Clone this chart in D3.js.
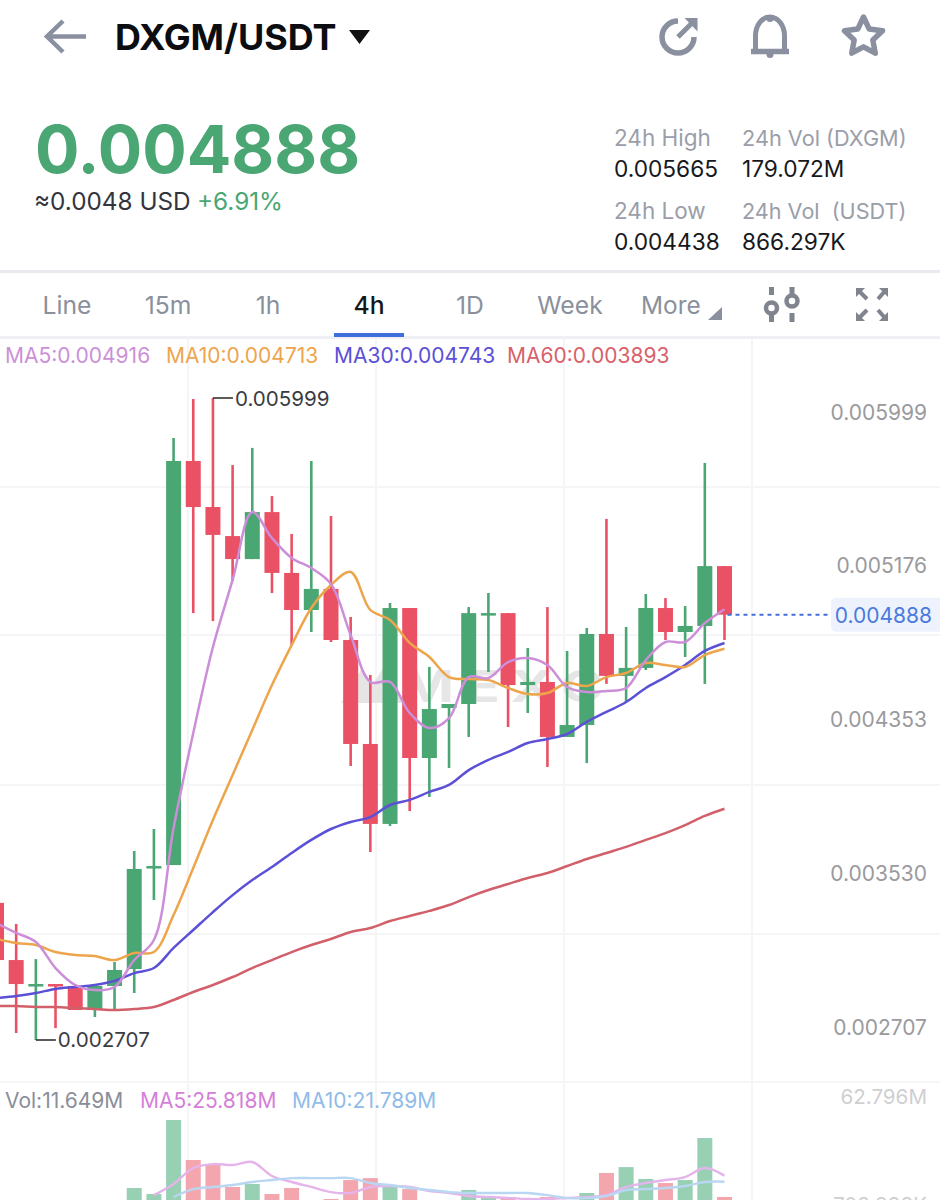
<!DOCTYPE html>
<html>
<head>
<meta charset="utf-8">
<script src="https://cdn.jsdelivr.net/npm/d3@7/dist/d3.min.js"></script>
<style>
html,body{margin:0;padding:0;background:#fff;overflow:hidden}
svg{display:block}
text{font-family:Inter,"Noto Sans",sans-serif}
</style>
</head>
<body>
<svg id="c" width="940" height="1200"></svg>
<script>
// ---------- Data ----------
const opens  = [0.003410,0.003117,0.002984,0.002994,0.002984,0.002861,0.002984,0.003071,0.003589,0.003604,0.005676,0.005440,0.005291,0.005173,0.005414,0.005102,0.004912,0.005020,0.004758,0.004225,0.003815,0.004922,0.004153,0.004409,0.004430,0.004889,0.004896,0.004527,0.004543,0.004261,0.004322,0.004789,0.004574,0.004615,0.004922,0.004799,0.004830,0.005137];
const closes = [0.003117,0.002994,0.002994,0.002986,0.002861,0.002984,0.003066,0.003584,0.003599,0.005676,0.005440,0.005297,0.005173,0.005414,0.005102,0.004912,0.005020,0.004758,0.004225,0.003815,0.004922,0.004153,0.004404,0.004430,0.004896,0.004896,0.004527,0.004543,0.004261,0.004322,0.004789,0.004574,0.004615,0.004922,0.004799,0.004830,0.005137,0.004888];
const highs  = [0.003410,0.003302,0.003122,0.002994,0.002994,0.002984,0.003107,0.003676,0.003789,0.005794,0.005994,0.005999,0.005655,0.005743,0.005496,0.005302,0.005676,0.005394,0.004876,0.004579,0.004948,0.004922,0.004620,0.004430,0.004927,0.004999,0.004896,0.004717,0.004927,0.004702,0.004820,0.005379,0.004825,0.004994,0.004973,0.004932,0.005666,0.005137];
const lows   = [0.003117,0.002743,0.002707,0.002768,0.002861,0.002825,0.002861,0.002948,0.003425,0.003604,0.004896,0.004855,0.005061,0.005173,0.004999,0.004732,0.004799,0.004748,0.004112,0.003671,0.003804,0.003881,0.003953,0.004102,0.004261,0.004594,0.004312,0.004384,0.004107,0.004261,0.004127,0.004533,0.004440,0.004604,0.004758,0.004671,0.004533,0.004758];
const ma5  = [0.003307,0.003256,0.003210,0.003076,0.002989,0.002963,0.002979,0.003117,0.003220,0.003794,0.004281,0.004722,0.005066,0.005414,0.005281,0.005179,0.005127,0.005045,0.004784,0.004543,0.004543,0.004384,0.004307,0.004358,0.004568,0.004563,0.004645,0.004666,0.004630,0.004517,0.004491,0.004497,0.004512,0.004655,0.004748,0.004748,0.004845,0.004916];
const ma10 = [0.003225,0.003204,0.003194,0.003158,0.003143,0.003138,0.003117,0.003153,0.003158,0.003348,0.003589,0.003835,0.004066,0.004297,0.004527,0.004732,0.004922,0.005040,0.005107,0.004912,0.004861,0.004743,0.004671,0.004568,0.004558,0.004553,0.004512,0.004481,0.004486,0.004538,0.004522,0.004568,0.004589,0.004640,0.004630,0.004620,0.004681,0.004713];
const ma30 = [0.002922,0.002933,0.002948,0.002969,0.002979,0.002989,0.003010,0.003050,0.003076,0.003179,0.003271,0.003363,0.003450,0.003527,0.003594,0.003666,0.003733,0.003789,0.003825,0.003850,0.003912,0.003938,0.003979,0.004015,0.004091,0.004143,0.004184,0.004230,0.004250,0.004276,0.004338,0.004389,0.004440,0.004512,0.004568,0.004630,0.004702,0.004743];
const ma60 = [0.002881,0.002881,0.002876,0.002876,0.002871,0.002866,0.002861,0.002866,0.002876,0.002912,0.002953,0.002989,0.003030,0.003076,0.003117,0.003158,0.003194,0.003225,0.003261,0.003281,0.003317,0.003343,0.003369,0.003399,0.003440,0.003476,0.003507,0.003538,0.003563,0.003599,0.003635,0.003666,0.003697,0.003733,0.003768,0.003809,0.003856,0.003893];
// Volume in millions; null where the bar lies below the cropped picture
const vols = [null,null,null,null,null,null,null,17.6,13.6,62.796,36.2,33.5,18.3,20.3,13.6,17.6,null,10.3,22.9,24.2,18.9,16.9,null,null,16.3,11.6,11.6,null,11.6,null,14.3,27.6,31.5,23.6,20.9,22.9,50.8,11.649];
const volMa5 = [null,null,null,null,null,null,null,null,12.9,20.3,30.9,33.5,32.9,34.9,25.6,21.6,18.3,14.9,14.3,18.3,18.9,18.3,15.6,14.3,12.3,11.6,11.0,10.3,10.3,11.0,11.6,12.9,18.3,20.9,22.9,24.9,30.9,25.818];
const volMa10 = [null,null,null,null,null,null,null,null,null,11.6,16.9,18.3,19.6,21.6,22.9,24.2,24.2,24.2,24.2,20.9,19.6,17.6,16.3,14.9,14.3,14.3,14.3,14.3,12.9,10.9,10.9,12.3,16.3,16.9,17.6,18.9,21.6,21.789];
const priceTicks = ["0.005999","0.005176","0.004353","0.003530","0.002707"];
const tabs = ["Line","15m","1h","4h","1D","Week"];
const legend = ["MA5:0.004916","MA10:0.004713","MA30:0.004743","MA60:0.003893"];
const volLegend = ["Vol:11.649M","MA5:25.818M","MA10:21.789M"];
const statLabels = ["24h High","24h Vol (DXGM)","24h Low","24h Vol  (USDT)"];
const statValues = ["0.005665","179.072M","0.004438","866.297K"];

// ---------- Scales ----------
const idx = d3.range(opens.length);
const x = d3.scalePoint().domain(idx).range([-3.5,724.5]);
const y = d3.scaleLinear().domain([0.005999,0.002707]).range([398,1040]);
const yTick = d3.scaleLinear().domain([0.005999,0.002707]).range([412,1027]);
const yVol = d3.scaleLinear().domain([0,62.796]).range([1214.5,1120]);

const GREEN="#4aa672", RED="#eb5165", GREY="#8a90a0", GRID="#f5f5f8";
const svg = d3.select("#c");
const T=(s,xx,yy,size,fill,weight,anchor)=>svg.append("text").attr("x",xx).attr("y",yy)
  .attr("font-size",size).attr("fill",fill).attr("font-weight",weight||400)
  .attr("text-anchor",anchor||"start").attr("xml:space","preserve").style("white-space","pre").text(s);

// ---------- Grid ----------
svg.append("g").selectAll("line").data([487,635,785,934,1082]).join("line")
  .attr("x1",0).attr("x2",940).attr("y1",d=>d).attr("y2",d=>d).attr("stroke",GRID).attr("stroke-width",2);
svg.append("g").selectAll("line").data([188,376,564,752]).join("line")
  .attr("x1",d=>d).attr("x2",d=>d).attr("y1",338).attr("y2",1200).attr("stroke",GRID).attr("stroke-width",2);

// ---------- Header ----------
svg.append("path").attr("d","M63 21 L47 36.5 L63 52 M47 36.5 H86").attr("fill","none").attr("stroke",GREY).attr("stroke-width",4.5);
T("DXGM/USDT",115,50,35.9,"#0c0d10",700);
svg.append("path").attr("d","M349 30 H370 L359.5 44 Z").attr("fill","#111");
// share
svg.append("path").attr("d","M678 21 A16 16 0 1 0 694 37").attr("fill","none").attr("stroke",GREY).attr("stroke-width",5.5);
svg.append("path").attr("d","M678 37 L692 23").attr("stroke",GREY).attr("stroke-width",5);
svg.append("path").attr("d","M684.5 18 H697.5 V31.5 Z").attr("fill",GREY);
// bell
svg.append("path").attr("d","M755.5 51 V36 A14.5 19 0 0 1 784.5 36 V51").attr("fill","none").attr("stroke",GREY).attr("stroke-width",5);
svg.append("path").attr("d","M751 51.5 H789").attr("stroke",GREY).attr("stroke-width",5.5);
svg.append("circle").attr("cx",770).attr("cy",18.5).attr("r",3.5).attr("fill",GREY);
svg.append("circle").attr("cx",770).attr("cy",54.5).attr("r",3.5).attr("fill",GREY);
// star
const starPts=d3.range(10).map(i=>{const r=i%2?9.8:20,a=-Math.PI/2+i*Math.PI/5;return [863.5+r*Math.cos(a),37+r*Math.sin(a)];});
svg.append("polygon").attr("points",starPts.join(" ")).attr("fill","none").attr("stroke",GREY).attr("stroke-width",5.5).attr("stroke-linejoin","round");

// ---------- Price block ----------
T("0.004888",35,173,66,GREEN,700);
T("≈0.0048 USD",34,210,24.3,"#33353c",400);
T("+6.91%",197,210,24.3,GREEN,400);
const statSizes=[22.5,21.7,22.5,21.6];
[[614,145.5],[742,145.5],[614,218.5],[742,218.5]].forEach((p,i)=>T(statLabels[i],p[0],p[1],statSizes[i],"#9a9ea9"));
[[614,177],[742,177],[614,250],[742,250]].forEach((p,i)=>T(statValues[i],p[0],p[1],22.7,"#16181c"));

// ---------- Tabs ----------
svg.append("rect").attr("x",0).attr("y",270).attr("width",940).attr("height",3).attr("fill","#e9eaef");
svg.append("rect").attr("x",0).attr("y",336).attr("width",940).attr("height",3).attr("fill","#eff0f4");
[67,168,268,369,470,570].forEach((cx,i)=>T(tabs[i],cx,314,24.7,i===3?"#15171b":"#8a909c",i===3?500:400,"middle"));
T("More",641,314,24.4,"#8a909c");
svg.append("rect").attr("x",334).attr("y",333).attr("width",70).attr("height",4).attr("fill","#3f6fdc");
svg.append("path").attr("d","M708 320 H722 V307 Z").attr("fill",GREY);
const ICON="#80848f";
svg.append("path").attr("d","M771.5 287 V295 M771.5 312 V322 M792 287 V295 M792 313 V322").attr("stroke",ICON).attr("stroke-width",5);
svg.append("circle").attr("cx",771.5).attr("cy",308).attr("r",5.5).attr("fill","none").attr("stroke",ICON).attr("stroke-width",4.5);
svg.append("circle").attr("cx",792).attr("cy",301).attr("r",5.5).attr("fill","none").attr("stroke",ICON).attr("stroke-width",4.5);
[[856,288,867,299],[888,288,878,299],[856,321,867,310],[888,321,878,310]].forEach(a=>{
  const sx=a[2]>a[0]?1:-1, sy=a[3]>a[1]?1:-1;
  svg.append("path").attr("d",`M${a[0]+3*sx} ${a[1]+3*sy} L${a[2]} ${a[3]}`).attr("stroke",ICON).attr("stroke-width",4);
  svg.append("path").attr("d",`M${a[0]} ${a[1]} h${9*sx} L${a[0]} ${a[1]+9*sy} Z`).attr("fill",ICON);
});

// ---------- Legend ----------
const legCols=["#cc90d8","#eea54e","#5b50d6","#d9606b"];
[5,166,334,507].forEach((lx,i)=>T(legend[i],lx,363,21,legCols[i]));

// ---------- Watermark ----------
svg.append("path").attr("d","M341 703 L362 668 L373 684 L383 668 L404 703 Z").attr("fill","#e5e5e5");
T("MEXC",0,0,44,"#e6e6e6",700).attr("letter-spacing",8).attr("transform","translate(400,702) scale(1.32,1)");

// ---------- Volume ----------
const chart = svg.append("g");
const W=15;
chart.selectAll("rect.v").data(idx.filter(i=>vols[i]!=null)).join("rect").attr("class","v")
  .attr("x",i=>x(i)-W/2).attr("width",W).attr("y",i=>yVol(vols[i])).attr("height",i=>yVol(0)-yVol(vols[i]))
  .attr("fill",i=>closes[i]>=opens[i]?"#98d0b4":"#f4a6ae");
[[volMa5,"#e4b4ea"],[volMa10,"#b9d6f2"]].forEach(s=>{
  chart.append("path").attr("d",d3.line().x(i=>x(i)).y(i=>yVol(s[0][i])).curve(d3.curveCatmullRom)(idx.filter(i=>s[0][i]!=null)))
    .attr("fill","none").attr("stroke",s[1]).attr("stroke-width",2.4);
});
T(volLegend[0],5,1108,21,"#8a8e99");
T(volLegend[1],140,1108,21,"#d57fd8");
T(volLegend[2],292,1108,21,"#8fbce8");
T("62.796M",927,1104,20.6,"#cfcfd2",400,"end");
T("708.398K",927,1212,20.6,"#cfcfd2",400,"end");

// ---------- Candles ----------
chart.selectAll("line.w").data(idx).join("line").attr("class","w")
  .attr("x1",i=>x(i)).attr("x2",i=>x(i)).attr("y1",i=>y(highs[i])).attr("y2",i=>y(lows[i]))
  .attr("stroke",i=>closes[i]>=opens[i]?GREEN:RED).attr("stroke-width",2.6);
chart.selectAll("rect.b").data(idx).join("rect").attr("class","b")
  .attr("x",i=>x(i)-W/2).attr("width",W)
  .attr("y",i=>y(Math.max(opens[i],closes[i])))
  .attr("height",i=>Math.max(2.5,Math.abs(y(opens[i])-y(closes[i]))))
  .attr("fill",i=>closes[i]>=opens[i]?GREEN:RED);

// ---------- Moving averages ----------
[[ma60,"#d2606a"],[ma30,"#5b50d6"],[ma10,"#eda54c"],[ma5,"#cc8ed8"]].forEach(s=>{
  chart.append("path").datum(idx)
    .attr("d",d3.line().x(i=>x(i)).y(i=>y(s[0][i])).curve(d3.curveCatmullRom))
    .attr("fill","none").attr("stroke",s[1]).attr("stroke-width",2.5);
});

// ---------- Callouts ----------
const hiI=highs.indexOf(d3.max(highs)), loI=lows.indexOf(d3.min(lows));
svg.append("path").attr("d",`M${x(hiI)} ${y(highs[hiI])} h20`).attr("stroke","#333").attr("stroke-width",1.6);
T("0.005999",x(hiI)+22,y(highs[hiI])+8,20.6,"#3a3c42");
svg.append("path").attr("d",`M${x(loI)} ${y(lows[loI])} h20`).attr("stroke","#333").attr("stroke-width",1.6);
T("0.002707",x(loI)+22,y(lows[loI])+7,20.6,"#3a3c42");

// ---------- Axis labels ----------
svg.append("g").selectAll("text").data(priceTicks).join("text")
  .attr("x",927).attr("y",d=>yTick(+d)+7.5).attr("text-anchor","end").attr("font-size",21).attr("fill","#9a9a9e").text(d=>d);

// ---------- Last price ----------
const last=closes[closes.length-1];
svg.append("line").attr("x1",x(37)+3).attr("x2",831).attr("y1",y(last)).attr("y2",y(last))
  .attr("stroke","#3f6fdc").attr("stroke-width",2).attr("stroke-dasharray","4 4");
svg.append("rect").attr("x",831).attr("y",y(last)-17).attr("width",112).attr("height",34).attr("rx",5).attr("fill","#eef2fc");
T("0.004888",932,y(last)+8,21,"#4a7be0",400,"end");
</script>
</body>
</html>
